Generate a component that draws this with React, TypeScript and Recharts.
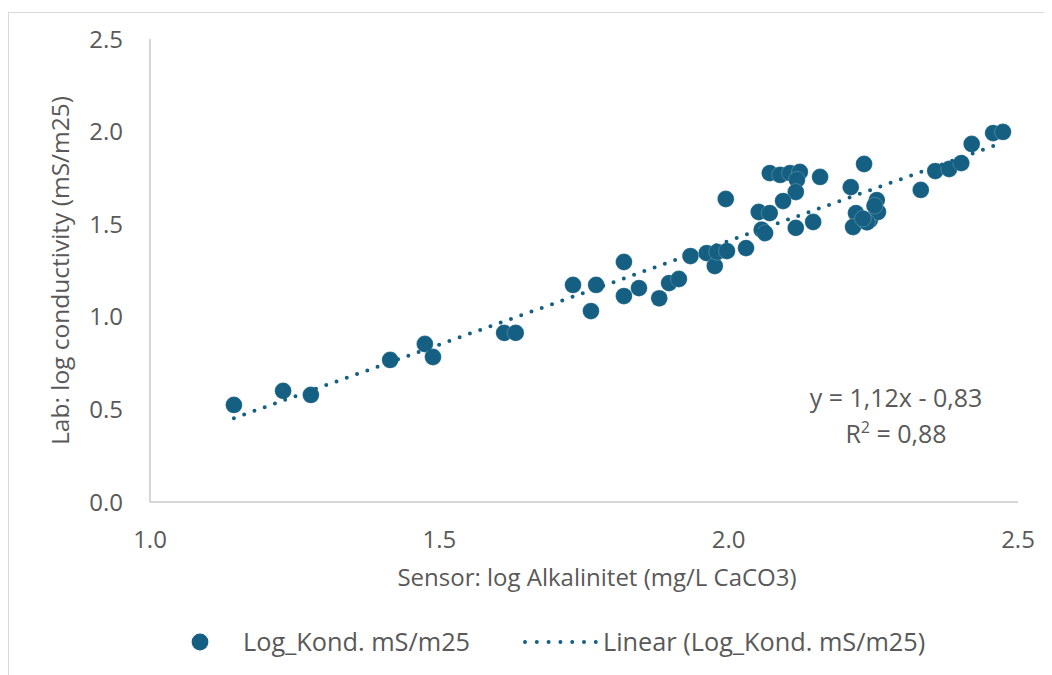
import React from 'react'
import { ScatterChart, Scatter, XAxis, YAxis, Legend, Label } from 'recharts'

// sensor: log alkalinitet (x) vs lab: log conductivity (y)
const sensorLogAlk = [
  1.145, 1.23, 1.278, 1.415, 1.475, 1.489, 1.612, 1.632, 1.731, 1.771,
  1.762, 1.819, 1.819, 1.845, 1.88, 1.897, 1.914, 1.934, 1.962, 1.976,
  1.98, 1.997, 2.03, 1.995, 2.052, 2.071, 2.057, 2.063, 2.071, 2.089,
  2.106, 2.123, 2.118, 2.116, 2.094, 2.116, 2.146, 2.158, 2.211, 2.234,
  2.22, 2.215, 2.244, 2.256, 2.258, 2.239, 2.252, 2.232, 2.332, 2.357,
  2.381, 2.402, 2.42, 2.457, 2.474,
]
const labLogKond = [
  0.524, 0.6, 0.578, 0.767, 0.853, 0.783, 0.913, 0.913, 1.172, 1.172,
  1.031, 1.296, 1.112, 1.155, 1.1, 1.182, 1.204, 1.328, 1.344, 1.274,
  1.35, 1.355, 1.371, 1.636, 1.566, 1.56, 1.47, 1.452, 1.776, 1.766,
  1.776, 1.782, 1.74, 1.674, 1.625, 1.48, 1.512, 1.755, 1.7, 1.825,
  1.56, 1.485, 1.523, 1.63, 1.566, 1.51, 1.6, 1.53, 1.685, 1.787,
  1.798, 1.83, 1.933, 1.992, 1.998,
]

// linear trendline y = 1,12x - 0,83
const slope = 1.12
const intercept = -0.83
const trendX = [1.145, 2.474]

const xTicks = [1.0, 1.5, 2.0, 2.5]
const yTicks = [0.0, 0.5, 1.0, 1.5, 2.0, 2.5]

const points = sensorLogAlk.map((x, i) => ({ x, y: labLogKond[i] }))
const trend = trendX.map(x => ({ x, y: slope * x + intercept }))

const BLUE = '#156082'
const TEXT = '#595959'
const FONT = '"Open Sans", sans-serif'
const W = 1045
const H = 665

function LegendBox() {
  return (
    <div style={{ position: 'relative', height: 40, width: W, fontFamily: FONT, fontSize: 25.3, color: TEXT }}>
      <svg width={W} height={40} style={{ position: 'absolute', left: 0, top: 0 }}>
        <circle cx={191} cy={20} r={8.4} fill={BLUE} />
        <line x1={516} y1={20} x2={587} y2={20} stroke={BLUE} strokeWidth={4}
          strokeDasharray="0 11.8" strokeLinecap="round" />
      </svg>
      <span style={{ position: 'absolute', left: 234, top: 2, lineHeight: '34px' }}>Log_Kond. mS/m25</span>
      <span style={{ position: 'absolute', left: 594, top: 2, lineHeight: '34px' }}>Linear (Log_Kond. mS/m25)</span>
    </div>
  )
}

const dot = (p: any) => <circle cx={p.cx} cy={p.cy} r={8.4} fill={BLUE} stroke="#ffffff" strokeOpacity={0.35} strokeWidth={0.6} />

export default function App() {
  const tick = { fill: TEXT, fontSize: 24, fontFamily: FONT }
  return (
    <div style={{ position: 'relative', marginTop: 4, width: W, height: H, border: '1px solid #d9d9d9', fontFamily: FONT }}>
      <ScatterChart width={W} height={H} margin={{ top: 26, right: 36, left: 0, bottom: 16 }}>
        <XAxis type="number" dataKey="x" domain={[1, 2.5]} ticks={xTicks} height={120}
          tickFormatter={(v: number) => v.toFixed(1)} tick={tick} tickLine={false} tickSize={0} tickMargin={29}
          axisLine={{ stroke: '#c8c8c8', strokeWidth: 1.5 }} allowDataOverflow>
          <Label value="Sensor: log Alkalinitet (mg/L CaCO3)" position="insideBottom" offset={36} dx={13}
            style={{ fill: TEXT, fontSize: 24, fontFamily: FONT }} />
        </XAxis>
        <YAxis type="number" dataKey="y" domain={[0, 2.5]} ticks={yTicks} width={141}
          tickFormatter={(v: number) => v.toFixed(1)} tick={tick} tickLine={false} tickSize={0} tickMargin={27}
          axisLine={{ stroke: '#c8c8c8', strokeWidth: 1.5 }} allowDataOverflow>
          <Label value="Lab: log conductivity (mS/m25)" position="insideLeft" angle={-90} offset={51}
            style={{ fill: TEXT, fontSize: 24.5, fontFamily: FONT, textAnchor: 'middle' }} />
        </YAxis>
        <Legend verticalAlign="bottom" content={() => <LegendBox />} wrapperStyle={{ left: 0, width: W }} />
        <Scatter name="Log_Kond. mS/m25" data={points} shape={dot} isAnimationActive={false} />
        <Scatter name="Linear (Log_Kond. mS/m25)" data={trend} isAnimationActive={false}
          line={{ stroke: BLUE, strokeWidth: 4, strokeDasharray: '0 10.9', strokeLinecap: 'round' }}
          shape={() => <g />} legendType="none" />
      </ScatterChart>
      <div style={{ position: 'absolute', left: 737, top: 366, width: 300, textAlign: 'center',
        fontSize: 25, lineHeight: '36px', color: TEXT }}>
        <div>y = 1,12x - 0,83</div>
        <div>R<span style={{ fontSize: 16, position: 'relative', top: -10 }}>2</span> = 0,88</div>
      </div>
    </div>
  )
}
